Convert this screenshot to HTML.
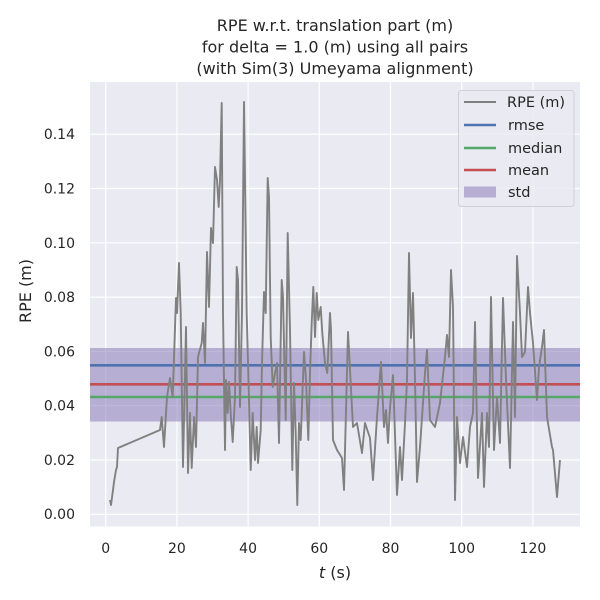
<!DOCTYPE html>
<html><head><meta charset="utf-8"><style>
html,body{margin:0;padding:0;background:#fff}
svg{display:block}
text{font-family:"DejaVu Sans","Liberation Sans",sans-serif;fill:#262626}
</style></head><body>
<svg width="600" height="600" viewBox="0 0 600 600" xmlns="http://www.w3.org/2000/svg">
<rect x="0" y="0" width="600" height="600" fill="#fff"/>
<rect x="90" y="82" width="490" height="444.5" fill="#eaeaf2"/>
<g stroke="#fff" stroke-width="1.2">
<line x1="105.7" y1="82" x2="105.7" y2="526.5"/>
<line x1="176.9" y1="82" x2="176.9" y2="526.5"/>
<line x1="248.1" y1="82" x2="248.1" y2="526.5"/>
<line x1="319.3" y1="82" x2="319.3" y2="526.5"/>
<line x1="390.5" y1="82" x2="390.5" y2="526.5"/>
<line x1="461.7" y1="82" x2="461.7" y2="526.5"/>
<line x1="532.9" y1="82" x2="532.9" y2="526.5"/>
<line x1="90" y1="514.3" x2="580" y2="514.3"/>
<line x1="90" y1="460" x2="580" y2="460"/>
<line x1="90" y1="405.7" x2="580" y2="405.7"/>
<line x1="90" y1="351.4" x2="580" y2="351.4"/>
<line x1="90" y1="297.1" x2="580" y2="297.1"/>
<line x1="90" y1="242.8" x2="580" y2="242.8"/>
<line x1="90" y1="188.5" x2="580" y2="188.5"/>
<line x1="90" y1="134.2" x2="580" y2="134.2"/>
</g>
<rect x="90" y="348" width="490" height="73.5" fill="#8172b3" fill-opacity="0.5"/>
<line x1="90" y1="365.3" x2="580" y2="365.3" stroke="#4c72b0" stroke-width="2.6"/>
<line x1="90" y1="384.3" x2="580" y2="384.3" stroke="#c44e52" stroke-width="2.6"/>
<line x1="90" y1="397" x2="580" y2="397" stroke="#55a868" stroke-width="2.6"/>
<polyline fill="none" stroke="#808080" stroke-width="1.9" stroke-linejoin="round" points="110,500 111,505 113,490 114,482 116,470 117,467 118,448 160,430 161.7,417 164,447 167,397 170,378 172.7,397 176,298 177,313 179,263 180.7,313 183,467 186,327 188,473 190,413 191.7,468 194,417 196,447 198,357 201.7,343 203,323 205,363 207,252 209,307 211,228 213,243 215,167 217,180 218.7,207 220,180 221.7,103 223,313 225,450 226,380 227.7,413 229,382 230.7,413 232.7,442 235,397 236.7,267 238,280 240,407 242,313 244,102 246.7,313 249,400 250.7,470 252.7,413 255,460 256.7,427 258,463 260.7,430 262,363 264,292 265.7,313 267.7,178 269,197 270.7,337 272.7,387 275,373 277,363 279,443 281.7,280 283,297 285.7,420 287.7,233 290,330 292.3,470 294,383 295.7,433 297.3,505 299,423 300.7,440 302.3,397 304,352 306,380 308.3,440 310,373 311.7,323 313.3,287 315,337 316.7,293 318.3,320 320.7,307 322.3,333 325,363 327.3,373 330,313 331,330 333,440 337,450 342,458 344,490 348,332 353,427 357,423 362,453 365,423 370,438 373,480 377,417 381,362 384,427 386,410 388,443 390,408 393,375 397,495 400,447 402,480 405,423 407,380 409,253 411,338 413,293 415,380 417,482 420,447 425,373 427,350 430,420 435,427 440,403 445,357 447,335 449,357 451,270 453,307 455,500 457,417 460,463 463,437 467,467 470,427 473,413 475,322 478,478 482,413 484,487 487,413 489,447 491,297 494,450 497,397 500,443 503,298 506,380 510,468 513,322 515,417 517,256 520,313 522,357 525,352 528,287 530,313 533,343 537,400 539,367 542,347 544,330 547,417 552,447 553,450 557,497 560,460"/>
<g font-size="14" text-anchor="end">
<text x="75" y="519">0.00</text>
<text x="75" y="465">0.02</text>
<text x="75" y="410.7">0.04</text>
<text x="75" y="356.4">0.06</text>
<text x="75" y="302.1">0.08</text>
<text x="75" y="247.8">0.10</text>
<text x="75" y="193.5">0.12</text>
<text x="75" y="139.2">0.14</text>
</g>
<g font-size="14" text-anchor="middle">
<text x="105.7" y="553">0</text>
<text x="176.9" y="553">20</text>
<text x="248.1" y="553">40</text>
<text x="319.3" y="553">60</text>
<text x="390.5" y="553">80</text>
<text x="461.7" y="553">100</text>
<text x="532.9" y="553">120</text>
<text x="335" y="578" font-size="16"><tspan font-style="italic">t</tspan> (s)</text>
<text x="335" y="31" font-size="16">RPE w.r.t. translation part (m)</text>
<text x="335" y="52.5" font-size="16">for delta = 1.0 (m) using all pairs</text>
<text x="335" y="74" font-size="16">(with Sim(3) Umeyama alignment)</text>
</g>
<text transform="translate(31,291) rotate(-90)" font-size="16" text-anchor="middle">RPE (m)</text>
<rect x="458.5" y="90.5" width="115.5" height="116" rx="3" fill="#eaeaf2" fill-opacity="0.85" stroke="#d0d0d8"/>
<line x1="464" y1="102" x2="496" y2="102" stroke="#808080" stroke-width="2"/>
<line x1="464" y1="125" x2="496" y2="125" stroke="#4c72b0" stroke-width="2.6"/>
<line x1="464" y1="148" x2="496" y2="148" stroke="#55a868" stroke-width="2.6"/>
<line x1="464" y1="170" x2="496" y2="170" stroke="#c44e52" stroke-width="2.6"/>
<rect x="464" y="186.5" width="32" height="11" fill="#8172b3" fill-opacity="0.5"/>
<g font-size="14.5">
<text x="507" y="107">RPE (m)</text>
<text x="508" y="130">rmse</text>
<text x="508" y="153">median</text>
<text x="508" y="175">mean</text>
<text x="508" y="197">std</text>
</g>
</svg>
</body></html>
